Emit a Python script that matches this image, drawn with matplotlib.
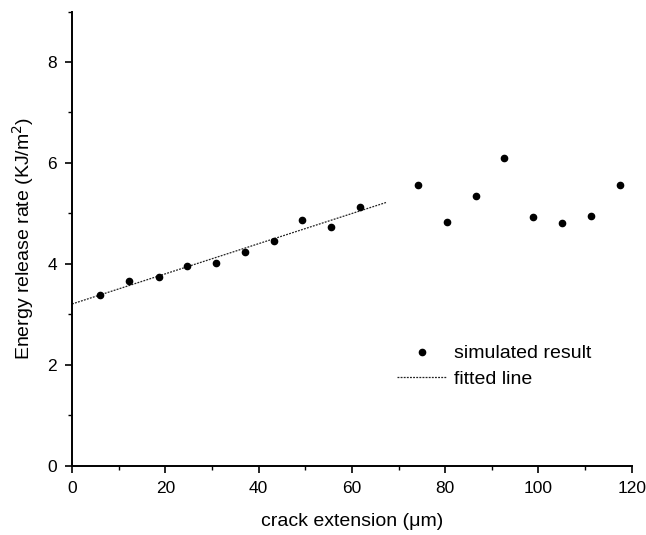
import numpy as np
import matplotlib
matplotlib.use("Agg")
import matplotlib.pyplot as plt
from matplotlib.ticker import MultipleLocator

plt.rcParams['font.family'] = ['Liberation Sans', 'DejaVu Sans']

# simulated energy release rate vs crack extension
crack_ext = [6.1, 12.3, 18.6, 24.7, 30.9, 37.1, 43.2, 49.4, 55.6, 61.7,
             74.2, 80.3, 86.5, 92.7, 98.8, 105.1, 111.3, 117.4]
energy = [3.39, 3.66, 3.75, 3.97, 4.02, 4.24, 4.45, 4.88, 4.74, 5.12,
          5.57, 4.84, 5.35, 6.09, 4.93, 4.82, 4.96, 5.57]
n_fit = 10                 # first points used for the linear fit
fit_range = [0, 67.3]      # extent of the drawn fitted line

fig = plt.figure(figsize=(6.46, 5.35), dpi=100)
ax = fig.add_axes([0.1115, 0.129, 0.8665, 0.8495])

slope, intercept = np.polyfit(crack_ext[:n_fit], energy[:n_fit], 1)
xf = np.array(fit_range)
ax.plot(xf, intercept + slope * xf, color='#222222', lw=0.9,
        linestyle=(0, (1.5, 1)), label='fitted line', zorder=2)
ax.plot(crack_ext, energy, 'o', color='black', markersize=4.5,
        linestyle='none', label='simulated result', zorder=3)

ax.set_xlim(0, 120)
ax.set_ylim(0, 9)
ax.xaxis.set_major_locator(MultipleLocator(20))
ax.xaxis.set_minor_locator(MultipleLocator(10))
ax.yaxis.set_major_locator(MultipleLocator(2))
ax.yaxis.set_minor_locator(MultipleLocator(1))
for s in ['top', 'right']:
    ax.spines[s].set_visible(False)
for s in ['left', 'bottom']:
    ax.spines[s].set_linewidth(1.4)
ax.tick_params(which='major', direction='out', length=5, width=1.2,
               labelsize=12.5, pad=6)
ax.tick_params(which='minor', direction='out', length=3, width=1.0)

ax.set_xlabel('crack extension (\u03bcm)', fontsize=14, labelpad=12)
ax.set_ylabel('Energy release rate (KJ/m$^2$)', fontsize=14, labelpad=8)

h, l = ax.get_legend_handles_labels()
ax.legend(h[::-1], l[::-1], frameon=False, fontsize=14, loc='upper left',
          bbox_to_anchor=(0.55, 0.305), handlelength=2.5, handletextpad=0.4,
          labelspacing=0.4)

fig.savefig('out.png', dpi=100)
